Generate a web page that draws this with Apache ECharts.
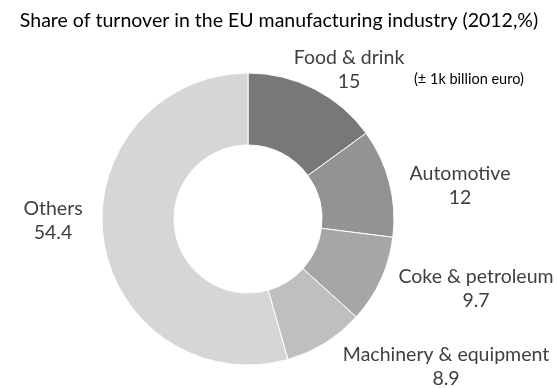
<!DOCTYPE html>
<html>
<head>
<meta charset="utf-8">
<script src="https://cdn.jsdelivr.net/npm/echarts@6/dist/echarts.min.js"></script>
<style>
  html, body { margin: 0; padding: 0; background: #fff; }
  #chart { width: 558px; height: 388px; }
</style>
</head>
<body>
<div id="chart"></div>
<script>
// Turnover shares per sector, EU manufacturing, 2012 (%)
const categories = ['Food & drink', 'Automotive', 'Coke & petroleum', 'Machinery & equipment', 'Others'];
const shares = [15, 12, 9.7, 8.9, 54.4];
const titleText = 'Share of turnover in the EU manufacturing industry (2012,%)';
const noteText = '(\u00b1 1k billion euro)';

// Slice fills, darkest first
const sliceColors = ['#787878', '#939393', '#a6a6a6', '#bfbfbf', '#d6d6d6'];
// Label anchor points (centre of the two-line label)
const labelAnchors = [[349, 70], [460, 186], [476, 289], [446, 367], [53, 221]];

const font = 'Lato, "Open Sans", "Liberation Sans", sans-serif';

const chart = echarts.init(document.getElementById('chart'), null, { renderer: 'canvas' });
chart.setOption({
  animation: false,
  title: {
    text: titleText,
    left: 'center',
    top: 6,
    textStyle: { fontFamily: font, fontSize: 19.5, fontWeight: 'normal', color: '#000' }
  },
  graphic: [{
    type: 'text',
    left: 414,
    top: 72,
    style: { text: noteText, fontFamily: font, fontSize: 14.5, fill: '#000' }
  }],
  series: [{
    type: 'pie',
    center: [248, 219],
    radius: [74, 146],
    startAngle: 90,
    clockwise: true,
    itemStyle: { borderColor: '#fff', borderWidth: 1 },
    label: {
      show: true,
      position: 'outside',
      formatter: p => p.name + '\n' + p.value,
      fontFamily: font,
      fontSize: 19.5,
      lineHeight: 24,
      color: '#404040',
      align: 'center',
      overflow: 'none'
    },
    labelLine: { show: false },
    labelLayout: p => ({
      x: labelAnchors[p.dataIndex][0],
      y: labelAnchors[p.dataIndex][1],
      align: 'center',
      verticalAlign: 'middle'
    }),
    data: categories.map((c, i) => ({
      name: c,
      value: shares[i],
      itemStyle: { color: sliceColors[i] }
    }))
  }]
});
</script>
</body>
</html>
